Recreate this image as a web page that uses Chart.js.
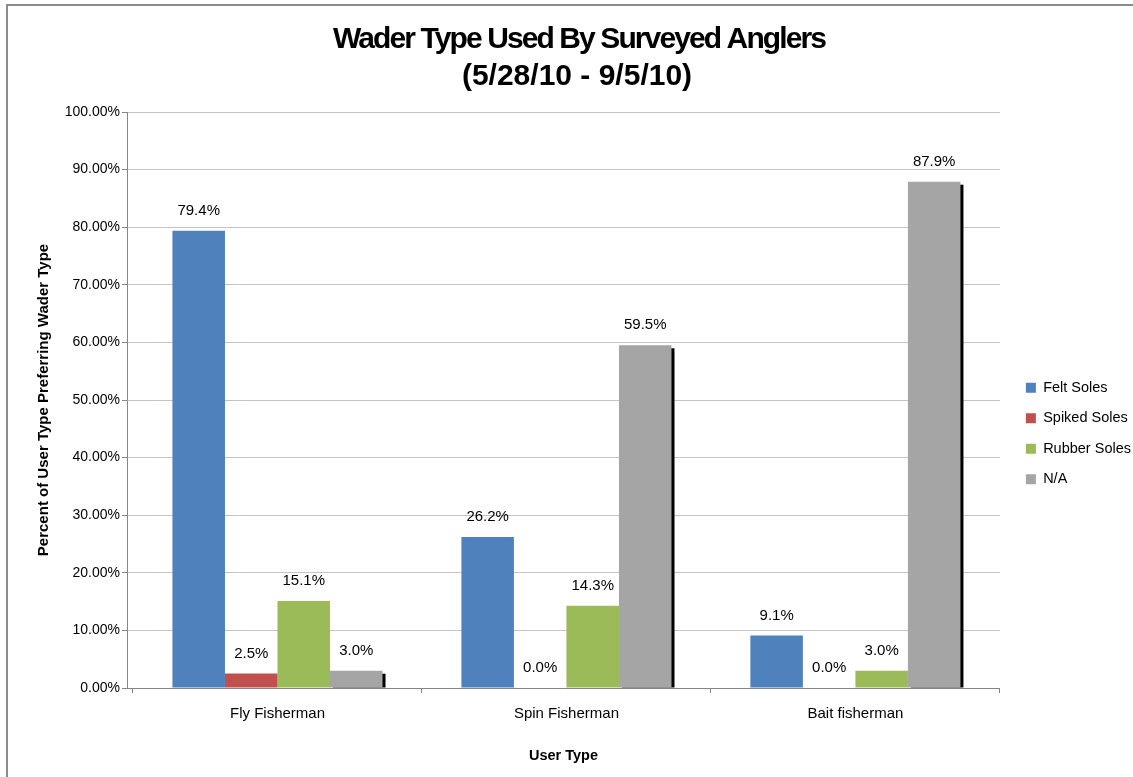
<!DOCTYPE html>
<html>
<head>
<meta charset="utf-8">
<title>Wader Type Used By Surveyed Anglers</title>
<script src="https://cdn.jsdelivr.net/npm/chart.js@4.4.1/dist/chart.umd.min.js"></script>
<style>
  html, body { margin: 0; padding: 0; background: #fff; }
  #wrap { position: relative; width: 1133px; height: 777px; overflow: hidden; }
  #frame {
    position: absolute; left: 6px; top: 4px; width: 1200px; height: 900px;
    border-top: 2px solid #8c8c8c; border-left: 2px solid #8c8c8c;
  }
  #waderChart { position: absolute; left: 0; top: 0; }
</style>
</head>
<body>
<div id="wrap">
  <div id="frame"></div>
  <canvas id="waderChart" width="1133" height="777"></canvas>
</div>
<script>
// ------------------------------------------------------------
// Wader type by user type, summer 2010 survey
// ------------------------------------------------------------

const userTypes = ['Fly Fisherman', 'Spin Fisherman', 'Bait fisherman'];

// percent of each user type preferring the wader type
const feltSoles   = [79.4, 26.2, 9.1];
const spikedSoles = [2.5, 0.0, 0.0];
const rubberSoles = [15.1, 14.3, 3.0];
const notAnswered = [3.0, 59.5, 87.9];

const yTicks = [0, 10, 20, 30, 40, 50, 60, 70, 80, 90, 100];

const titleLines = ['Wader Type Used By Surveyed Anglers', '(5/28/10 - 9/5/10)'];
const titleSpacing = [-1.9, 0];

const FONT = '"Liberation Sans", Arial, sans-serif';
const AXIS_GREY = '#868686';

// bold two-line heading over the plot
const heading = {
  id: 'heading',
  afterDraw(chart) {
    const ctx = chart.ctx;
    ctx.save();
    ctx.font = 'bold 30px ' + FONT;
    ctx.fillStyle = '#000';
    ctx.textAlign = 'center';
    ctx.textBaseline = 'middle';
    titleLines.forEach((line, i) => {
      const cx = 579 - i * 2;
      const y = 40 + i * 37;
      if ('letterSpacing' in ctx) {
        ctx.letterSpacing = titleSpacing[i] + 'px';
        ctx.fillText(line, cx, y);
      } else {
        ctx.save();
        ctx.translate(cx, y);
        ctx.scale(i === 0 ? 0.88 : 1, 1);
        ctx.fillText(line, 0, 0);
        ctx.restore();
      }
    });
    ctx.restore();
  }
};

// values printed above each bar
const barLabels = {
  id: 'barLabels',
  afterDatasetsDraw(chart) {
    const ctx = chart.ctx;
    ctx.save();
    ctx.font = '15px ' + FONT;
    ctx.fillStyle = '#000';
    ctx.textAlign = 'center';
    ctx.textBaseline = 'middle';
    chart.data.datasets.forEach((ds, i) => {
      chart.getDatasetMeta(i).data.forEach((bar, j) => {
        ctx.fillText(ds.data[j].toFixed(1) + '%', bar.x, bar.y - 20);
      });
    });
    ctx.restore();
  }
};

// black drop shadow behind the N/A bars
const naShadow = {
  id: 'naShadow',
  beforeDatasetDraw(chart, args) {
    if (args.index !== 3) return;
    const ctx = chart.ctx;
    ctx.save();
    ctx.fillStyle = '#000';
    args.meta.data.forEach(bar => {
      const h = bar.base - bar.y;
      if (h <= 3) return;
      ctx.fillRect(bar.x - bar.width / 2 + 3, bar.y + 3, bar.width, h - 3);
    });
    ctx.restore();
  }
};

// categories start a few px right of the value axis; legend sits higher/right
const layoutTweaks = {
  id: 'layoutTweaks',
  afterLayout(chart) {
    const x = chart.scales.x;
    const left = x.left;
    x.left = left + 6;
    x.configure();
    x.left = left;

    const lg = chart.legend;
    lg.left += 10; lg.right += 10;
    lg.top -= 11; lg.bottom -= 11;
  }
};

new Chart(document.getElementById('waderChart'), {
  type: 'bar',
  data: {
    labels: userTypes,
    datasets: [
      { label: 'Felt Soles',   data: feltSoles,   backgroundColor: '#4f81bd' },
      { label: 'Spiked Soles', data: spikedSoles, backgroundColor: '#c0504d' },
      { label: 'Rubber Soles', data: rubberSoles, backgroundColor: '#9bbb59' },
      { label: 'N/A',          data: notAnswered, backgroundColor: '#a5a5a5' },
    ],
  },
  options: {
    responsive: false,
    animation: false,
    devicePixelRatio: 1,
    categoryPercentage: 0.727,
    barPercentage: 1.0,
    layout: { padding: { left: 26, right: 2, top: 112, bottom: 0 } },
    scales: {
      x: {
        afterFit: s => { s.height = 89; },
        grid: {
          drawOnChartArea: false,
          drawTicks: true,
          tickLength: 5,
          tickColor: AXIS_GREY,
          offset: true,
        },
        border: { color: AXIS_GREY, width: 1 },
        ticks: { color: '#000', padding: 12, font: { family: FONT, size: 15 } },
        title: {
          display: true,
          text: 'User Type',
          color: '#000',
          font: { family: FONT, size: 14.5, weight: 'bold' },
          padding: { top: 0, bottom: 12 },
        },
      },
      y: {
        min: 0,
        max: 100,
        afterFit: s => { s.width = 101; },
        afterBuildTicks: s => { s.ticks = yTicks.map(v => ({ value: v })); },
        grid: {
          color: '#c4c4c4',
          tickColor: AXIS_GREY,
          tickLength: 5,
        },
        border: { color: AXIS_GREY, width: 1 },
        ticks: {
          color: '#000',
          padding: 2,
          font: { family: FONT, size: 14 },
          callback: v => v.toFixed(2) + '%',
        },
        title: {
          display: true,
          text: 'Percent of User Type Preferring Wader Type',
          color: '#000',
          font: { family: FONT, size: 15, weight: 'bold' },
          padding: { top: 9, bottom: 0 },
        },
      },
    },
    plugins: {
      title: { display: false },
      legend: {
        position: 'right',
        labels: {
          color: '#000',
          boxWidth: 10,
          boxHeight: 10,
          padding: 16,
          font: { family: FONT, size: 14.5 },
        },
      },
      tooltip: { enabled: false },
    },
  },
  plugins: [naShadow, barLabels, layoutTweaks, heading],
});
</script>
</body>
</html>
